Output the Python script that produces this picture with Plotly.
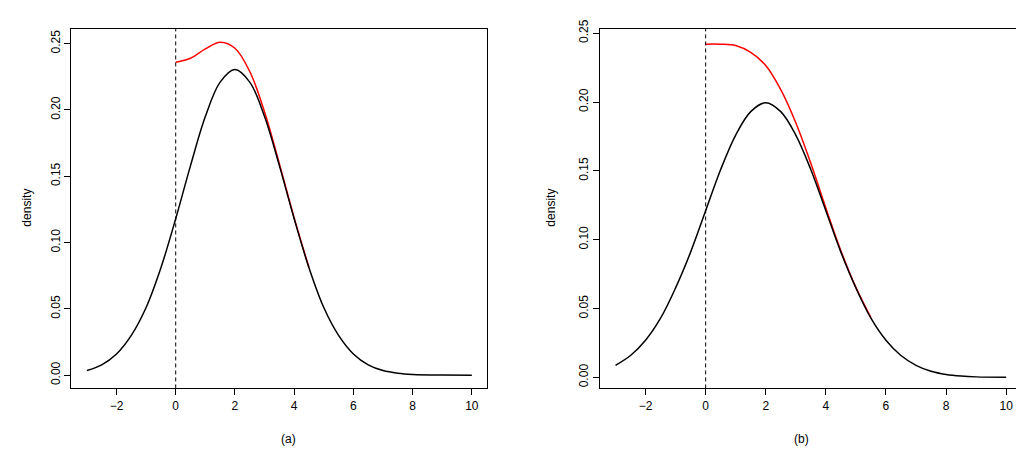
import plotly.graph_objects as go

# panel (a)
xa = [-3, -2.5, -2, -1.5, -1, -0.5, 0, 0.5, 1, 1.5, 2, 2.5, 3, 3.5, 4, 4.5, 5, 5.5, 6, 6.5, 7, 7.5, 8, 9, 10]
ya = [0.0035, 0.0078, 0.016, 0.030, 0.051, 0.081, 0.118, 0.158, 0.195, 0.221, 0.2305, 0.221, 0.195, 0.158,
      0.118, 0.081, 0.051, 0.030, 0.016, 0.0078, 0.0035, 0.0015, 0.0006, 0.0001, 0.0]
xa_red = [0, 0.5, 1, 1.5, 2, 2.5, 3, 3.5, 4, 4.5]
ya_red = [0.236, 0.239, 0.246, 0.251, 0.2465, 0.229, 0.1985, 0.1595, 0.1186, 0.0812]

# panel (b)
xb = [-3, -2.5, -2, -1.5, -1, -0.5, 0, 0.5, 1, 1.5, 2, 2.5, 3, 3.5, 4, 4.5, 5, 5.5, 6, 6.5, 7, 7.5, 8, 8.5, 9, 10]
yb = [0.0088, 0.0159, 0.027, 0.043, 0.065, 0.091, 0.121, 0.151, 0.176, 0.193, 0.1995, 0.193, 0.176, 0.151,
      0.121, 0.091, 0.065, 0.043, 0.027, 0.0159, 0.0088, 0.0045, 0.0022, 0.0010, 0.0004, 0.00007]
xb_red = [0, 0.5, 1, 1.5, 2, 2.5, 3, 3.5, 4, 4.5, 5, 5.5]
yb_red = [0.242, 0.242, 0.241, 0.236, 0.2265, 0.209, 0.185, 0.1555, 0.123, 0.092, 0.0654, 0.0435]

x_ticks = [-2, 0, 2, 4, 6, 8, 10]
y_ticks = [0, 0.05, 0.10, 0.15, 0.20, 0.25]
y_ticktext = ["0.00", "0.05", "0.10", "0.15", "0.20", "0.25"]

fig = go.Figure()
# red first so the black curve sits on top where they merge
fig.add_trace(go.Scatter(x=xa_red, y=ya_red, mode="lines", line=dict(color="red", width=1.5, shape="spline"), xaxis="x", yaxis="y"))
fig.add_trace(go.Scatter(x=xa, y=ya, mode="lines", line=dict(color="black", width=1.5, shape="spline"), xaxis="x", yaxis="y"))
fig.add_trace(go.Scatter(x=xb_red, y=yb_red, mode="lines", line=dict(color="red", width=1.5, shape="spline"), xaxis="x2", yaxis="y2"))
fig.add_trace(go.Scatter(x=xb, y=yb, mode="lines", line=dict(color="black", width=1.5, shape="spline"), xaxis="x2", yaxis="y2"))

ax = dict(showgrid=False, zeroline=False, showline=True, mirror=True, linecolor="black", linewidth=1,
          ticks="outside", ticklen=6, tickcolor="black", tickfont=dict(size=12, color="black"))
fig.update_layout(
    width=1024, height=451, showlegend=False,
    plot_bgcolor="white", paper_bgcolor="white",
    font=dict(family="Liberation Sans, Arial", color="black"),
    margin=dict(l=0, r=0, t=0, b=0),
    xaxis=dict(ax, domain=[0.062, 0.468], range=[-3.52, 10.52], tickvals=x_ticks, anchor="y"),
    yaxis=dict(ax, domain=[0.16, 0.975], range=[-0.01, 0.261], tickvals=y_ticks, ticktext=y_ticktext, tickangle=-90, anchor="x"),
    xaxis2=dict(ax, domain=[0.578, 0.99], range=[-3.52, 10.52], tickvals=x_ticks, anchor="y2"),
    yaxis2=dict(ax, domain=[0.16, 0.975], range=[-0.008, 0.253], tickvals=y_ticks, ticktext=y_ticktext, tickangle=-90, anchor="x2"),
    shapes=[
        dict(type="line", xref="x", yref="y domain", x0=0, x1=0, y0=0, y1=1, line=dict(color="black", width=1, dash="4px,3px")),
        dict(type="line", xref="x2", yref="y2 domain", x0=0, x1=0, y0=0, y1=1, line=dict(color="black", width=1, dash="4px,3px")),
    ],
    annotations=[
        dict(text="density", x=10/1024, y=0.57, xref="paper", yref="paper", showarrow=False, textangle=-90, font=dict(size=12)),
        dict(text="density", x=543/1024, y=0.57, xref="paper", yref="paper", showarrow=False, textangle=-90, font=dict(size=12)),
        dict(text="(a)", x=0.265, y=1-440/451, xref="paper", yref="paper", showarrow=False, font=dict(size=12)),
        dict(text="(b)", x=0.784, y=1-440/451, xref="paper", yref="paper", showarrow=False, font=dict(size=12)),
    ],
)

fig.write_html("out.html")
